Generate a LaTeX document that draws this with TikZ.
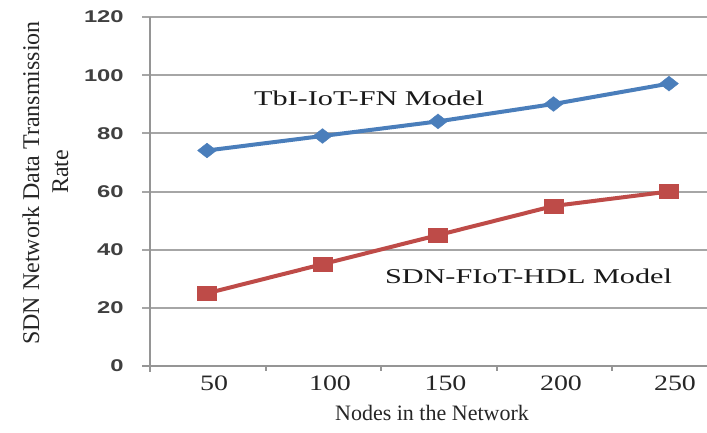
\documentclass[tikz,border=0pt]{standalone}
\usepackage{fontspec}
\setmainfont{Liberation Serif}
\setsansfont{Liberation Sans}
\usetikzlibrary{shapes.geometric}
\definecolor{serblue}{HTML}{4A7EBB}
\definecolor{serred}{HTML}{BE4B48}
\definecolor{gridgray}{HTML}{A6A6A6}
\tikzset{
  gridline/.style={draw=gridgray, line width=2pt},
  axisline/.style={draw=gridgray!90!black, line width=2pt},
  ytick/.style={anchor=east, xscale=1.4, inner sep=0pt, font=\sffamily\bfseries\fontsize{17}{17}\selectfont, text=black!75},
  xtick/.style={anchor=base, xscale=1.27, inner sep=0pt, font=\fontsize{22}{22}\selectfont, text=black!85},
  axlabel/.style={anchor=base, inner sep=0pt, font=\fontsize{24}{24}\selectfont, text=black!85},
  serlabel/.style={anchor=base, xscale=1.44, inner sep=0pt, font=\fontsize{21}{21}\selectfont, text=black!90},
  bluemark/.style={diamond, fill=serblue, draw=serblue, inner sep=0pt, minimum width=19pt, minimum height=15pt},
  redmark/.style={rectangle, fill=serred, draw=serred, inner sep=0pt, minimum width=19pt, minimum height=14pt},
  blueline/.style={draw=serblue, line width=4pt, line join=round},
  redline/.style={draw=serred, line width=4pt, line join=round},
}
\begin{document}
\begin{tikzpicture}[x=1pt, y=-1pt]
\useasboundingbox[fill=white] (0,0) rectangle (707,432);
% grid lines
\foreach \yy in {17,75.2,133.3,191.5,249.7,307.8} {
  \draw[gridline] (142,\yy) -- (707,\yy);
}
% axes
\draw[axisline] (142,366) -- (707,366);
\draw[axisline] (150,17) -- (150,372);
\foreach \xx in {265.5,381,496.5,612} {
  \draw[axisline] (\xx,366) -- (\xx,371);
}
% y tick labels
\node[ytick] (y120) at (124,17) {120};
\node[ytick] (y100) at (124,75.2) {100};
\node[ytick] (y80) at (124,133.3) {80};
\node[ytick] (y60) at (124,191.5) {60};
\node[ytick] (y40) at (124,249.7) {40};
\node[ytick] (y20) at (124,307.8) {20};
\node[ytick] (y0) at (124,366) {0};
% x tick labels
\node[xtick] (x50) at (214,390) {50};
\node[xtick] (x100) at (330,390) {100};
\node[xtick] (x150) at (445.5,390) {150};
\node[xtick] (x200) at (561,390) {200};
\node[xtick] (x250) at (675,390) {250};
% axis labels
\node[axlabel, rotate=90] (ylab1) at (39,183) {SDN Network Data Transmission};
\node[axlabel, rotate=90] (ylab2) at (68,172) {Rate};
\node[axlabel, font=\fontsize{22}{22}\selectfont] (xlab) at (432,420) {Nodes in the Network};
% data coordinates
\coordinate (b1) at (207,150.5);
\coordinate (b2) at (322.5,136);
\coordinate (b3) at (438,121.4);
\coordinate (b4) at (553.5,104);
\coordinate (b5) at (669,83.6);
\coordinate (r1) at (207,293.3);
\coordinate (r2) at (322.5,264.2);
\coordinate (r3) at (438,235.1);
\coordinate (r4) at (553.5,206);
\coordinate (r5) at (669,191.5);
\draw[blueline] (b1) -- (b2) -- (b3) -- (b4) -- (b5);
\draw[redline] (r1) -- (r2) -- (r3) -- (r4) -- (r5);
\foreach \i in {1,...,5} {
  \node[bluemark] (B\i) at (b\i) {};
  \node[redmark] (R\i) at (r\i) {};
}
% series labels
\node[serlabel] (lblue) at (369,105) {TbI-IoT-FN Model};
\node[serlabel] (lred) at (528.5,283) {SDN-FIoT-HDL Model};
\end{tikzpicture}
\end{document}
